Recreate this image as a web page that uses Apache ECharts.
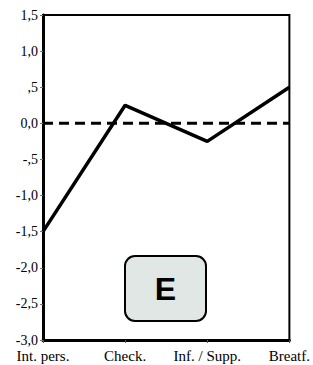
<!DOCTYPE html>
<html>
<head>
<meta charset="utf-8">
<script src="https://cdn.jsdelivr.net/npm/echarts@6/dist/echarts.min.js"></script>
<style>
  html, body { margin: 0; padding: 0; background: #fff; }
  #chart { width: 313px; height: 365px; }
</style>
</head>
<body>
<div id="chart"></div>
<script>
(function() {
  var categories = ['Int. pers.', 'Check.', 'Inf. / Supp.', 'Breatf.'];
  var values = [-1.5, 0.25, -0.25, 0.5];
  var refValue = 0;
  var yTicks = [1.5, 1.0, 0.5, 0, -0.5, -1.0, -1.5, -2.0, -2.5, -3.0];
  var yTickLabels = ['1,5', '1,0', ',5', '0,0', '-,5', '-1,0', '-1,5', '-2,0', '-2,5', '-3,0'];
  var panelLabel = 'E';

  var serif = 'Liberation Serif, Times New Roman, serif';

  function tickLabel(v) {
    for (var i = 0; i < yTicks.length; i++) {
      if (Math.abs(yTicks[i] - v) < 1e-6) return yTickLabels[i];
    }
    return '';
  }

  var refLine = categories.map(function() { return refValue; });

  var chart = echarts.init(document.getElementById('chart'), null, { renderer: 'svg' });
  chart.setOption({
    animation: false,
    textStyle: { fontFamily: serif },
    grid: { left: 43, right: 22, top: 15, bottom: 25, show: true, borderColor: '#000', borderWidth: 2 },
    xAxis: {
      type: 'category',
      data: categories,
      boundaryGap: false,
      axisLine: { onZero: false, lineStyle: { color: '#000', width: 3 } },
      axisTick: { show: true, length: 3, interval: 0, lineStyle: { color: '#555' } },
      axisLabel: { color: '#000', fontFamily: serif, fontSize: 15, margin: 8, interval: 0, hideOverlap: false },
      splitLine: { show: false }
    },
    yAxis: {
      type: 'value',
      min: -3.0,
      max: 1.5,
      interval: 0.5,
      axisLine: { show: true, lineStyle: { color: '#000', width: 3 } },
      axisTick: { show: true, length: 3, lineStyle: { color: '#777' } },
      axisLabel: { color: '#000', fontFamily: serif, fontSize: 14, margin: 5, formatter: tickLabel },
      splitLine: { show: false }
    },
    series: [{
      type: 'line',
      data: refLine,
      symbol: 'none',
      silent: true,
      lineStyle: { color: '#000', width: 3, type: [10, 6] },
      z: 2
    }, {
      type: 'line',
      data: values,
      symbol: 'none',
      lineStyle: { color: '#000', width: 3.5 },
      z: 3
    }],
    graphic: [{
      type: 'group',
      left: 124,
      top: 255,
      children: [{
        type: 'rect',
        shape: { x: 0, y: 0, width: 81, height: 65, r: 10 },
        style: { fill: '#e0e7e4', stroke: '#000', lineWidth: 2 }
      }, {
        type: 'text',
        x: 40.5,
        y: 33,
        style: {
          text: panelLabel,
          fill: '#000',
          font: 'bold 32px Liberation Sans, Arial, sans-serif',
          align: 'center',
          verticalAlign: 'middle'
        }
      }]
    }]
  });
  window.addEventListener('resize', function() { chart.resize(); });
})();
</script>
</body>
</html>
